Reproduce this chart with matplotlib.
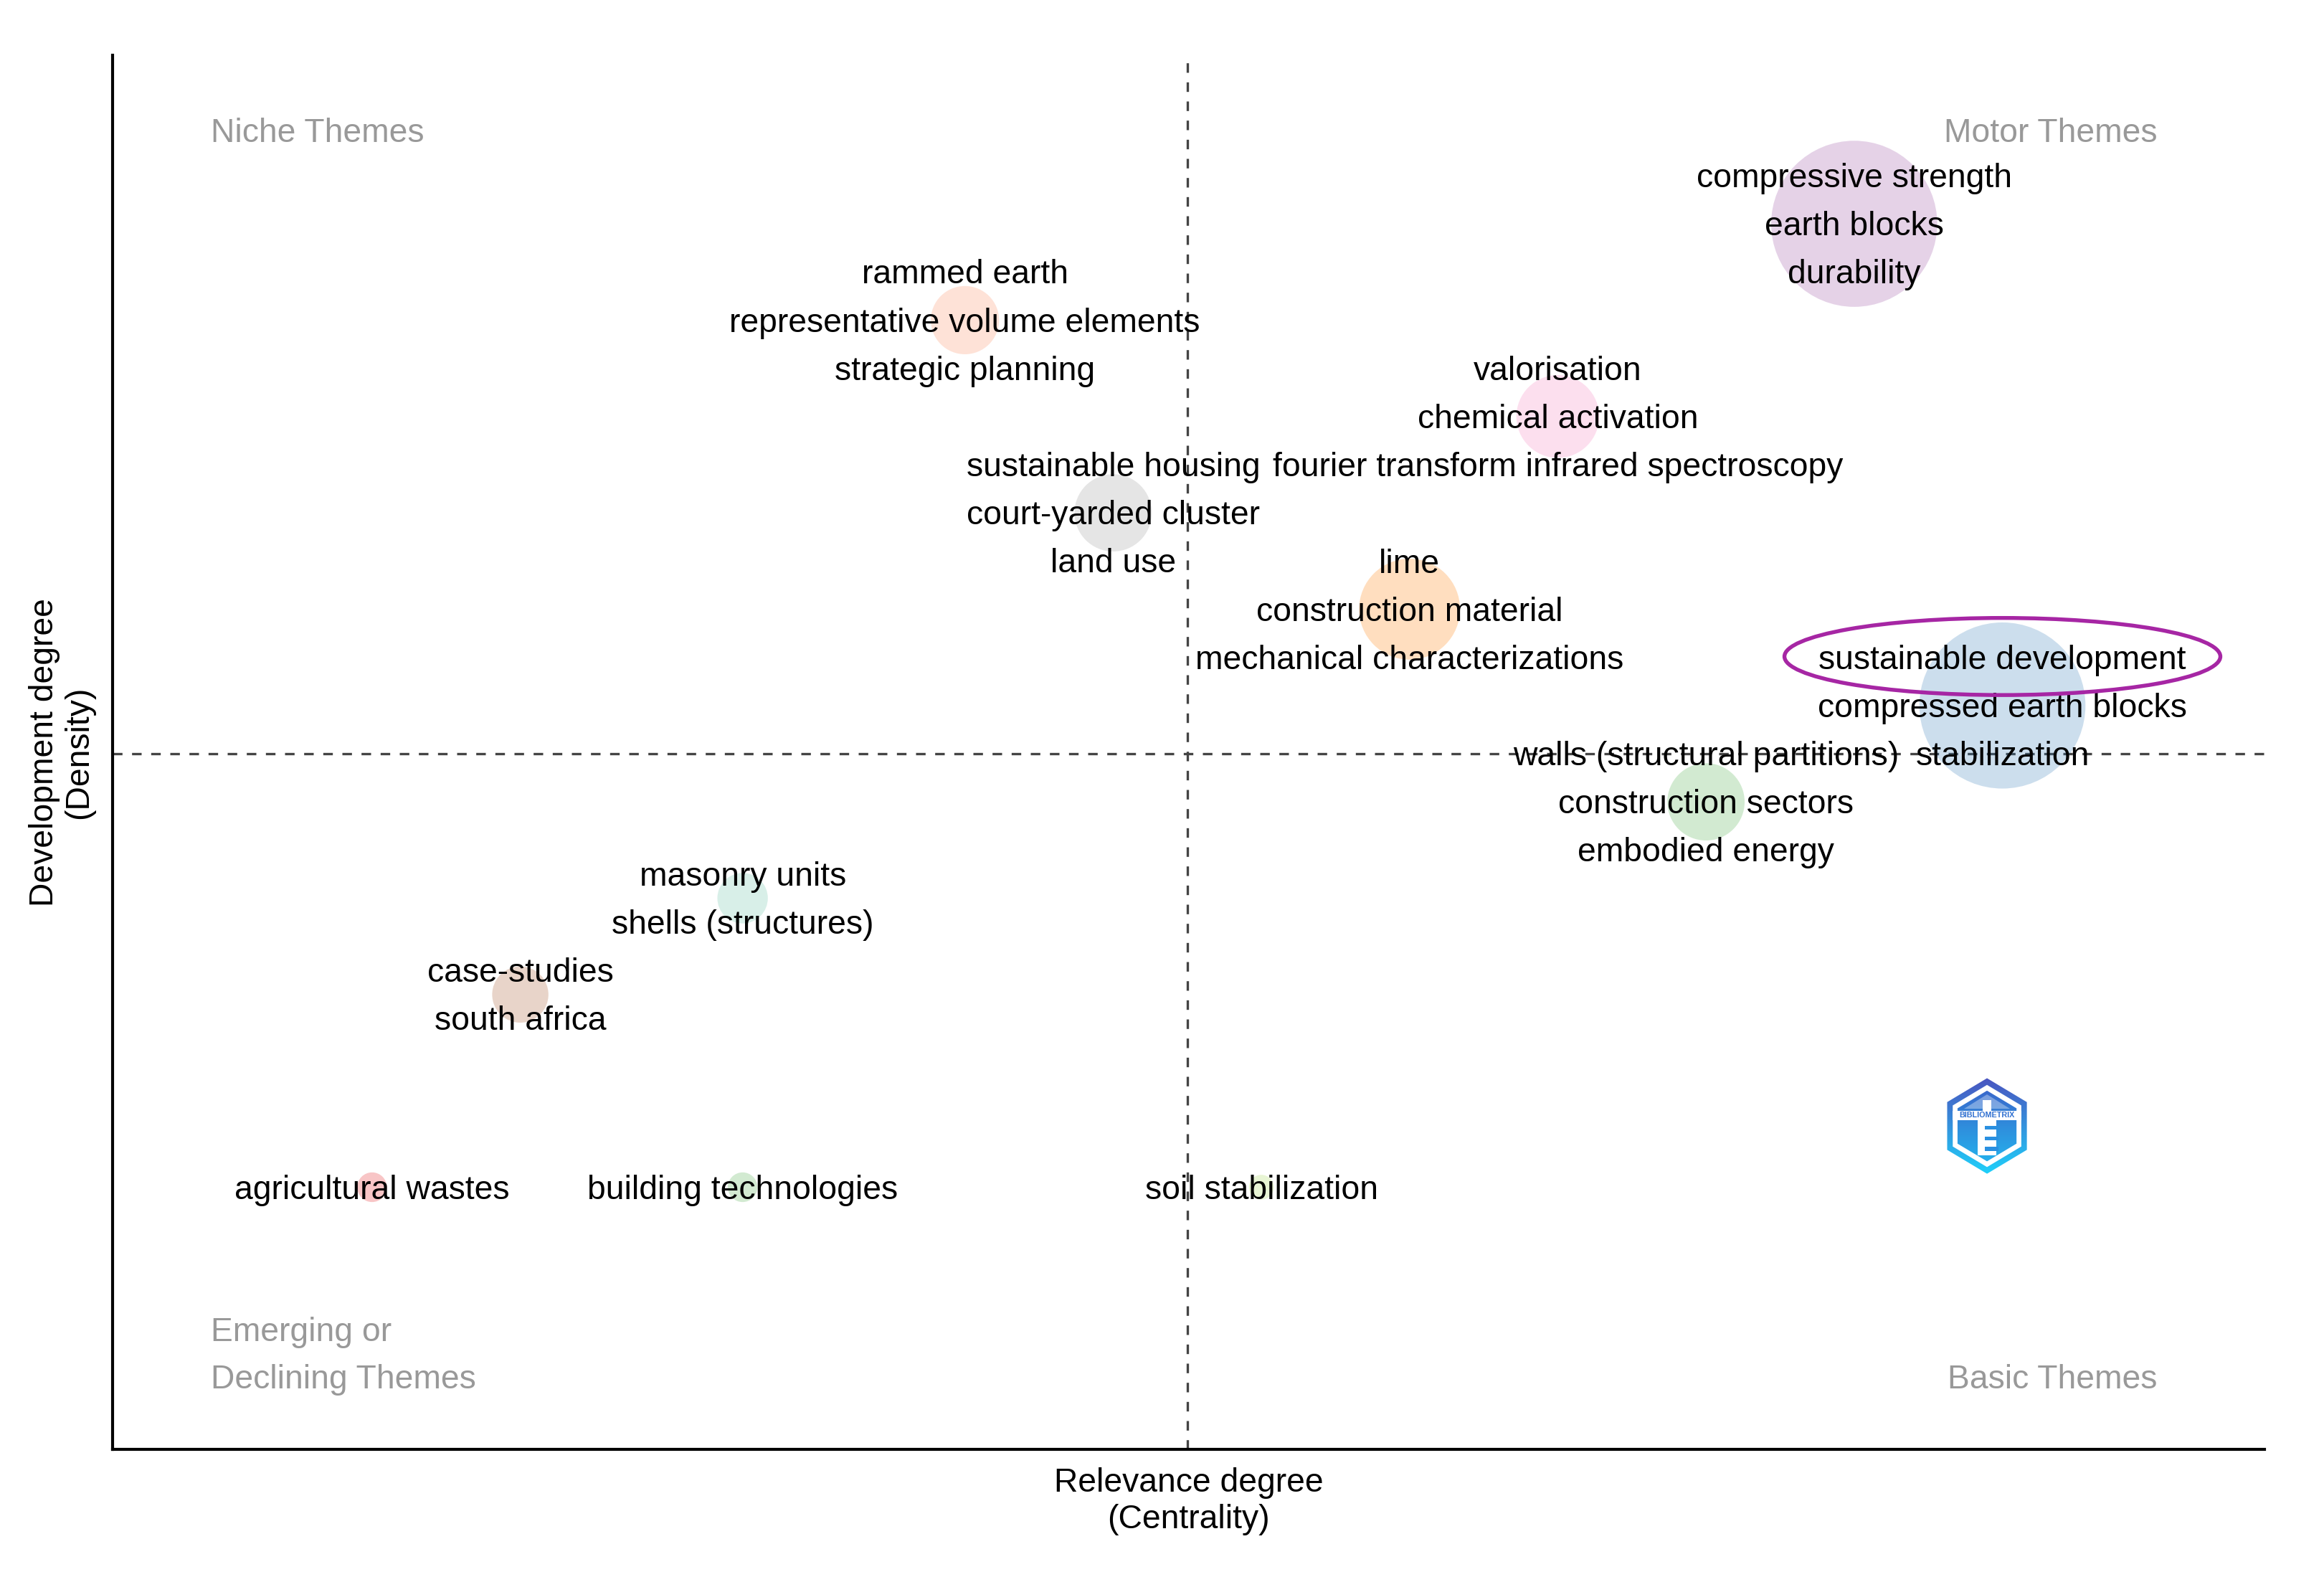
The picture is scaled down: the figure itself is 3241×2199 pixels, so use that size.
import numpy as np
import matplotlib.pyplot as plt
import matplotlib.transforms as mtransforms
from matplotlib.colors import LinearSegmentedColormap
from matplotlib.patches import Ellipse, RegularPolygon, Rectangle, Polygon

plt.rcParams['font.family'] = ['Liberation Sans', 'DejaVu Sans']

# clusters of the thematic map (rank centrality / rank density)
labels = [
    ["compressive strength", "earth blocks", "durability"],
    ["rammed earth", "representative volume elements", "strategic planning"],
    ["valorisation", "chemical activation", "fourier transform infrared spectroscopy"],
    ["sustainable housing", "court-yarded cluster", "land use"],
    ["lime", "construction material", "mechanical characterizations"],
    ["sustainable development", "compressed earth blocks", "stabilization"],
    ["walls (structural partitions)", "construction sectors", "embodied energy"],
    ["masonry units", "shells (structures)"],
    ["case-studies", "south africa"],
    ["agricultural wastes"],
    ["building technologies"],
    ["soil stabilization"],
]
centrality = [11, 5, 9, 6, 8, 12, 10, 3.5, 2, 1, 3.5, 7]
density = [12, 11, 10, 9, 8, 7, 6, 5, 4, 2, 2, 2]
freq = [314, 53, 78, 68, 116, 314, 68, 29, 36, 10, 10, 7]
colors = ["#984EA3", "#FC8D62", "#F781BF", "#999999", "#FF7F00", "#377EB8",
          "#4DAF4A", "#66C2A5", "#A65628", "#E41A1C", "#4DAF4A", "#A6D854"]
highlight = 5  # "sustainable development"

fig = plt.figure(figsize=(3241 / 300, 2199 / 300), dpi=300)
ax = fig.add_axes([0.0485, 0.081, 0.926, 0.884])
ax.set_xlim(-0.75, 13.77)
ax.set_ylim(-0.72, 13.75)

ax.axvline(np.mean(centrality), color="#444444", lw=0.8, ls=(0, (4, 4)), zorder=1)
ax.axhline(np.mean(density), color="#444444", lw=0.8, ls=(0, (4, 4)), zorder=1)

ax.scatter(centrality, density, s=np.array(freq) * 9.84, c=colors, alpha=0.25,
           edgecolors="none", zorder=2)

step = 16.1  # points between label lines
for i, lines in enumerate(labels):
    n = len(lines)
    for j, line in enumerate(lines):
        off = ((n - 1) / 2 - j) * step - 1.0
        ax.annotate(line, (centrality[i], density[i]), xytext=(0, off),
                    textcoords="offset points", ha="center", va="center",
                    fontsize=11.1, color="black", zorder=3)

# highlight ellipse round the first label of the chosen cluster
tr = (mtransforms.Affine2D().scale(fig.dpi / 72)
      + mtransforms.ScaledTranslation(centrality[highlight], density[highlight], ax.transData))
ax.add_patch(Ellipse((0, step + 0.3), 145.9, 25.8, transform=tr, fill=False,
                     ec="#a626a4", lw=1.3, zorder=4))

qcol = "#999999"
ax.text(0.0455, 0.944, "Niche Themes", transform=ax.transAxes, ha="left", va="center",
        fontsize=11.1, color=qcol)
ax.text(0.950, 0.944, "Motor Themes", transform=ax.transAxes, ha="right", va="center",
        fontsize=11.1, color=qcol)
ax.text(0.0455, 0.084, "Emerging or", transform=ax.transAxes, ha="left", va="center",
        fontsize=11.1, color=qcol)
ax.text(0.0455, 0.050, "Declining Themes", transform=ax.transAxes, ha="left", va="center",
        fontsize=11.1, color=qcol)
ax.text(0.950, 0.050, "Basic Themes", transform=ax.transAxes, ha="right", va="center",
        fontsize=11.1, color=qcol)

ax.set_xlabel("Relevance degree\n(Centrality)", fontsize=11.1, linespacing=1.2, labelpad=6)
ax.set_ylabel("Development degree\n(Density)", fontsize=11.1, linespacing=1.12, labelpad=6)
ax.set_xticks([])
ax.set_yticks([])
for side in ["top", "right"]:
    ax.spines[side].set_visible(False)
for side in ["left", "bottom"]:
    ax.spines[side].set_linewidth(1.0)
    ax.spines[side].set_color("black")

# bibliometrix logo
lax = fig.add_axes([0.855 - 0.0198, 0.286 - 0.0318, 0.0396, 0.0636])
lax.set_xlim(-1, 1)
lax.set_ylim(-1.05, 1.05)
lax.set_aspect("equal")
lax.axis("off")
grad = np.linspace(0, 1, 100).reshape(-1, 1)
cm1 = LinearSegmentedColormap.from_list("lg", ["#4a55c0", "#1fd0fa"])
cm2 = LinearSegmentedColormap.from_list("lg2", ["#3d5cc6", "#22bdf2"])
outer = RegularPolygon((0, 0), 6, radius=1.0, orientation=0, transform=lax.transData)
im = lax.imshow(grad, extent=(-1, 1, -1, 1), origin="upper", cmap=cm1, aspect="auto", zorder=1)
im.set_clip_path(outer)
lax.add_patch(RegularPolygon((0, 0), 6, radius=0.86, orientation=0, fc="white", ec="none", zorder=2))
inner = RegularPolygon((0, 0), 6, radius=0.74, orientation=0, transform=lax.transData)
im2 = lax.imshow(grad, extent=(-1, 1, -1, 1), origin="upper", cmap=cm2, aspect="auto", zorder=3)
im2.set_clip_path(inner)
lax.add_patch(Polygon([(-0.5, 0.36), (0, 0.66), (0.5, 0.36)], closed=True, fc="white",
                      ec="none", alpha=0.35, zorder=4))
lax.add_patch(Rectangle((-0.75, 0.12), 1.5, 0.2, fc="white", ec="none", zorder=4))
lax.text(0, 0.22, "BIBLIOMETRIX", ha="center", va="center", fontsize=2.6,
         fontweight="bold", color="#2f6fd0", zorder=5)
lax.add_patch(Rectangle((-0.1, 0.32), 0.2, 0.22, fc="white", ec="none", zorder=4))
lax.add_patch(Rectangle((-0.2, -0.62), 0.4, 0.74, fc="white", ec="none", zorder=4))
for k in range(3):
    lax.add_patch(Rectangle((-0.05, -0.52 + k * 0.22), 0.3, 0.08, fc="#2a90e0", ec="none", zorder=5))

fig.savefig("out.png", dpi=300)
